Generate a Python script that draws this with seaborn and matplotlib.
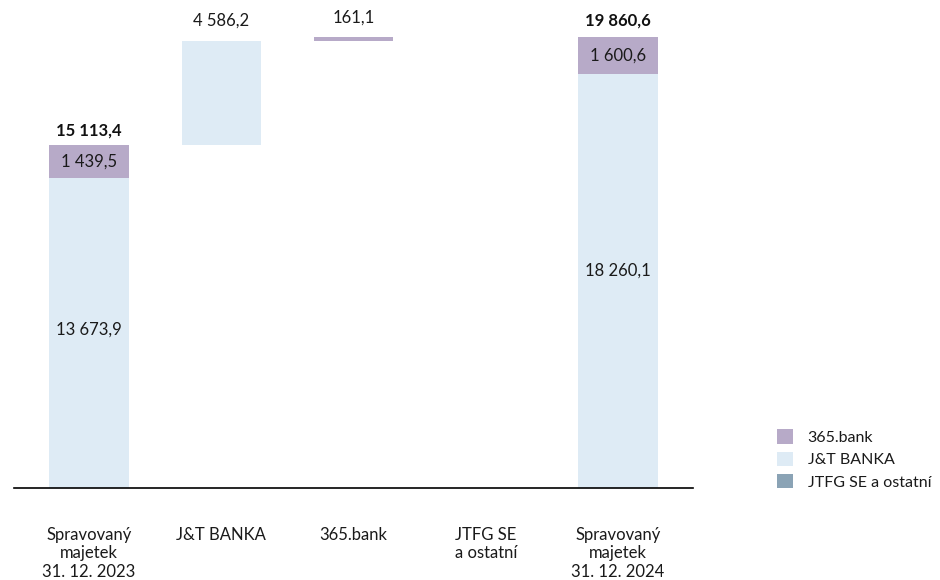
import numpy as np
import pandas as pd
import seaborn as sns
import matplotlib
matplotlib.use("Agg")
import matplotlib.pyplot as plt
from matplotlib.patches import Patch

sns.set_theme(style="white")
plt.rcParams['font.family'] = ['Lato', 'DejaVu Sans']

# ---- data ----
categories = ["Spravovaný\nmajetek\n31. 12. 2023", "J&T BANKA", "365.bank",
              "JTFG SE\na ostatní", "Spravovaný\nmajetek\n31. 12. 2024"]
series_names = ["365.bank", "J&T BANKA", "JTFG SE a ostatní"]
start_jt = 13673.9
start_365 = 1439.5
start_total = 15113.4
change_jt = 4586.2
change_365 = 161.1
change_jtfg = -0.1
end_jt = 18260.1
end_365 = 1600.6
end_total = 19860.6

colors = {"365.bank": "#b7aac8", "J&T BANKA": "#deebf5", "JTFG SE a ostatní": "#8aa3b5"}

def fmt(v):
    s = f"{v:,.1f}".replace(",", " ").replace(".", ",")
    return s

# cumulative waterfall levels
lvl1 = start_total
lvl2 = lvl1 + change_jt
lvl3 = lvl2 + change_365
lvl4 = lvl3 + change_jtfg

jt_h = [start_jt, change_jt, 0, 0, end_jt]
jt_b = [0, lvl1, 0, 0, 0]
b365_h = [start_365, 0, change_365, 0, end_365]
b365_b = [start_jt, 0, lvl2, 0, end_jt]
jtfg_h = [0, 0, 0, abs(change_jtfg), 0]
jtfg_b = [0, 0, 0, min(lvl3, lvl4), 0]

fig = plt.figure(figsize=(9.4, 5.8), dpi=100)
ax = fig.add_axes([14/940, 1 - 488/580, (693 - 14)/940, 488/580])

for name, h, b in [("J&T BANKA", jt_h, jt_b), ("365.bank", b365_h, b365_b),
                   ("JTFG SE a ostatní", jtfg_h, jtfg_b)]:
    df = pd.DataFrame({"cat": categories, "val": h})
    sns.barplot(data=df, x="cat", y="val", order=categories, color=colors[name],
                saturation=1, width=0.6, errorbar=None, ax=ax, linewidth=0,
                bottom=b)

ax.set_xlim(-0.567, 4.567)
ax.set_ylim(0, 21500)
ax.set_xlabel("")
ax.set_ylabel("")
ax.set_yticks([])
for s in ["top", "right", "left"]:
    ax.spines[s].set_visible(False)
ax.spines["bottom"].set_color("black")
ax.spines["bottom"].set_linewidth(1.2)
ax.tick_params(axis="x", length=0, pad=28, labelsize=12, colors="#1a1a1a")

fs = 12
tc = "#1a1a1a"
# segment labels
ax.text(0, start_jt * 0.51, fmt(start_jt), ha="center", va="center", fontsize=fs, color=tc)
ax.text(0, start_jt + start_365 / 2, fmt(start_365), ha="center", va="center", fontsize=fs, color=tc)
ax.text(0, start_total + 300, fmt(start_total), ha="center", va="bottom", fontsize=fs, fontweight="bold", color="#111111")
ax.text(1, lvl2 + 550, fmt(change_jt), ha="center", va="bottom", fontsize=fs, color=tc)
ax.text(2, lvl3 + 500, fmt(change_365), ha="center", va="bottom", fontsize=fs, color=tc)
ax.text(4, end_jt * 0.525, fmt(end_jt), ha="center", va="center", fontsize=fs, color=tc)
ax.text(4, end_jt + end_365 / 2, fmt(end_365), ha="center", va="center", fontsize=fs, color=tc)
ax.text(4, end_total + 400, fmt(end_total), ha="center", va="bottom", fontsize=fs, fontweight="bold", color="#111111")

handles = [Patch(facecolor=colors[n], edgecolor="none") for n in series_names]
fig.legend(handles, series_names, loc="upper left", bbox_to_anchor=(763/940, 1 - 415/580),
           frameon=False, fontsize=11.5, handlelength=1.0, handleheight=1.0,
           labelspacing=0.42, handletextpad=0.9, labelcolor=tc)

fig.savefig("out.png", dpi=100)
